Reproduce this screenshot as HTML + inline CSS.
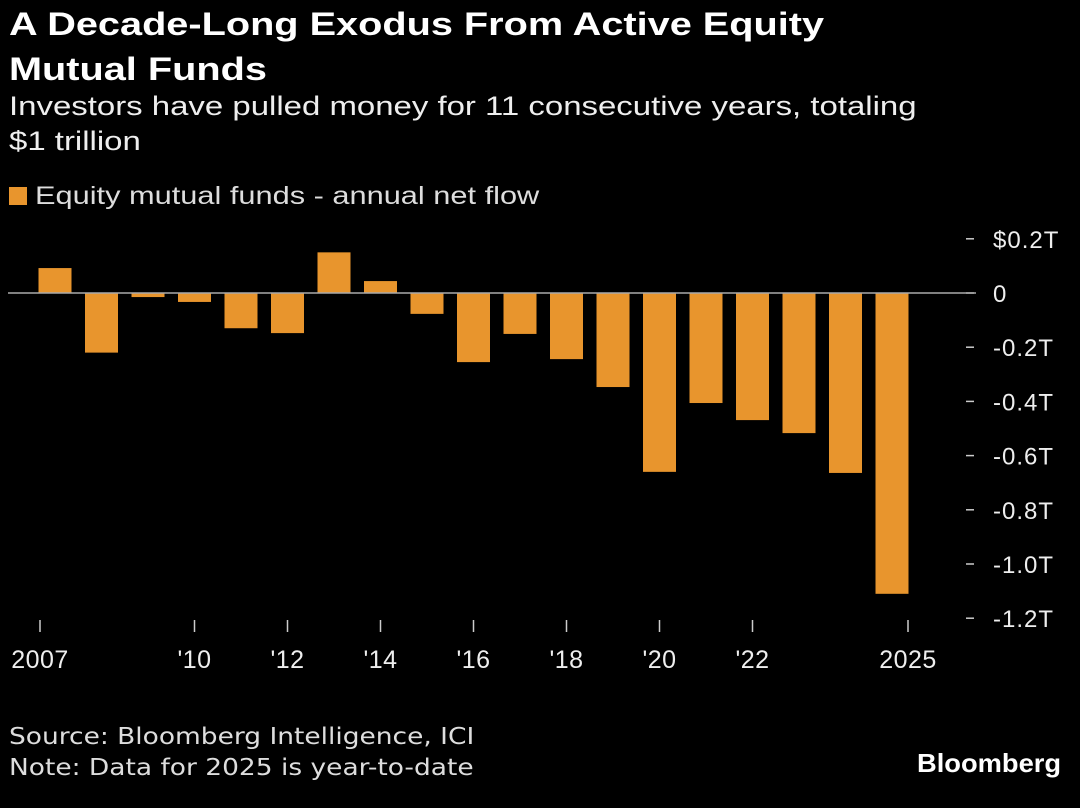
<!DOCTYPE html>
<html><head><meta charset="utf-8"><style>
body{margin:0;background:#000;width:1080px;height:808px;overflow:hidden;font-family:"Liberation Sans",sans-serif;color:#fff}
.t{position:absolute;left:9px;white-space:nowrap;transform-origin:left top}
</style></head><body>
<div class="t" style="top:2px;font-size:32px;font-weight:bold;line-height:45px;transform:scaleX(1.24)">A Decade-Long Exodus From Active Equity<br>Mutual Funds</div>
<div class="t" style="top:89px;font-size:27px;line-height:35px;color:#eee;transform:scaleX(1.22)">Investors have pulled money for 11 consecutive years, totaling<br>$1 trillion</div>
<div class="t" style="top:182px;font-size:25px;color:#ddd"><span style="display:inline-block;width:18px;height:18px;background:#e8952d;margin-right:8px;vertical-align:-1px"></span><span style="display:inline-block;transform:scaleX(1.23);transform-origin:left">Equity mutual funds - annual net flow</span></div>
<svg id="c" width="1080" height="808" style="position:absolute;left:0;top:0"></svg>
<div class="t" style="top:722px;font-size:23px;line-height:31px;color:#ddd;font-family:'DejaVu Sans',sans-serif;transform:scaleX(1.15)">Source: Bloomberg Intelligence, ICI<br>Note: Data for 2025 is year-to-date</div>
<div style="position:absolute;left:917px;top:748px;font-size:26px;font-weight:bold;transform:scaleX(1.05);transform-origin:left">Bloomberg</div>
<script>
const years=[2007,2008,2009,2010,2011,2012,2013,2014,2015,2016,2017,2018,2019,2020,2021,2022,2023,2024,2025];
const values=[0.092,-0.22,-0.015,-0.033,-0.13,-0.148,0.15,0.044,-0.077,-0.255,-0.151,-0.244,-0.347,-0.66,-0.406,-0.469,-0.517,-0.664,-1.11];
const yTicks=[0.2,0,-0.2,-0.4,-0.6,-0.8,-1.0,-1.2];
const yTickLabels=["$0.2T","0","-0.2T","-0.4T","-0.6T","-0.8T","-1.0T","-1.2T"];
const xTickYears=[2007,2010,2012,2014,2016,2018,2020,2022,2025];
const xTickLabels=["2007","'10","'12","'14","'16","'18","'20","'22","2025"];
const NS="http://www.w3.org/2000/svg",svg=document.getElementById('c');
const y=v=>293-v*271, x=yr=>55+(yr-2007)*46.5;
function mk(t,a){const e=document.createElementNS(NS,t);for(const k in a)e.setAttribute(k,a[k]);svg.appendChild(e);return e;}
yTicks.forEach((v,i)=>{
 const l=mk('line',{x1:966,x2:974,y1:y(v),y2:y(v),stroke:'#ccc','stroke-width':1.5});
 
 
 const t=mk('text',{x:993,y:y(v)+9,fill:'#eee','font-size':24,'letter-spacing':1,'font-family':'Liberation Sans, sans-serif'});
 t.textContent=yTickLabels[i];
 
 
});
values.forEach((v,i)=>{
 const r=mk('rect',{x:x(years[i])-16.5,width:33,y:Math.min(y(v),y(0)),height:Math.abs(y(v)-y(0)),fill:'#e8952d'});
 
 
});
const z=mk('line',{x1:8,x2:976,y1:y(0),y2:y(0),stroke:'#aaa','stroke-width':1.5});


xTickYears.forEach((yr,i)=>{
 let cx=x(yr); if(yr===2007)cx=40; if(yr===2025)cx=908;
 const l=mk('line',{x1:cx,x2:cx,y1:620,y2:632,stroke:'#ccc','stroke-width':1.5});
 
 
 const t=mk('text',{x:cx,y:668,fill:'#eee','font-size':25,'letter-spacing':0.5,'text-anchor':'middle','font-family':'Liberation Sans, sans-serif'});
 t.textContent=xTickLabels[i];
 
 
});
</script>
</body></html>
